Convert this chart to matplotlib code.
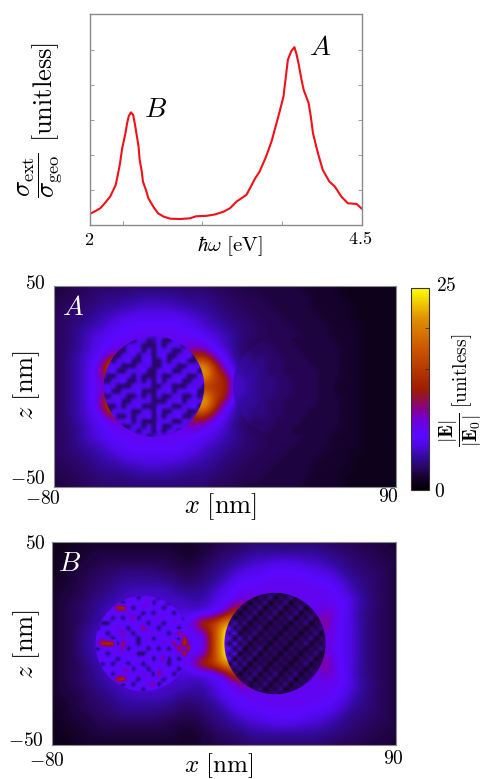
import matplotlib
matplotlib.use("Agg")
import matplotlib.pyplot as plt
import numpy as np
from matplotlib.colors import LinearSegmentedColormap
from matplotlib.patches import Circle

plt.rcParams['mathtext.fontset'] = 'cm'
plt.rcParams['font.family'] = ['cmr10', 'DejaVu Serif']
plt.rcParams['axes.unicode_minus'] = False

W, H = 486, 779

# spectrum
energy = [2.00, 2.05, 2.10, 2.14, 2.19, 2.24, 2.26, 2.28, 2.30, 2.33, 2.345, 2.36, 2.38, 2.40, 2.415, 2.43, 2.45, 2.46,
          2.48, 2.49, 2.52, 2.54, 2.59, 2.63, 2.68, 2.74, 2.83, 2.92, 2.98, 3.07, 3.15, 3.23, 3.29, 3.35, 3.44, 3.52,
          3.56, 3.62, 3.67, 3.72, 3.75, 3.78, 3.80, 3.82, 3.85, 3.88, 3.90, 3.92, 3.945, 3.965, 4.01, 4.03, 4.05, 4.08,
          4.10, 4.14, 4.20, 4.25, 4.31, 4.37, 4.45, 4.50]
sigma = [.31, .39, .48, .62, .81, 1.14, 1.43, 1.76, 2.19, 2.62, 2.90, 3.10, 3.21, 3.14, 2.90, 2.62, 2.24, 1.86,
         1.52, 1.24, .98, .76, .50, .33, .24, .18, .17, .19, .25, .26, .30, .38, .48, .67, .86, 1.33,
         1.52, 1.95, 2.38, 2.95, 3.30, 3.67, 4.19, 4.71, 4.95, 5.07, 4.86, 4.57, 4.14, 3.85, 3.48, 3.10, 2.62, 2.24,
         2.00, 1.57, 1.24, 1.10, .81, .62, .60, .46]
energy_ticks = [2.31, 3.03, 3.77]
sigma_ticks = [1, 2, 3, 4, 5]

# field outside the spheres, 5 nm cells, rows z = 50 ... -50, columns x = -80 ... 90
field_a = [
    [2,2,2.5,2.5,3, 3,3,3,3,3, 3,3,3,3,3, 3,2.5,2.5,2.5,2, 2,2,2,2,2, 1.5,1.5,1.5,1.5,1, 1,1,1,1,1],
    [2,2.5,2.5,3,3, 3.5,3.5,3.5,4,4, 4,4,4,3.5,3.5, 3.5,3,3,2.5,2.5, 2.5,2,2,2,2, 2,1.5,1.5,1.5,1, 1,1,1,1,1],
    [2.5,2.5,3,3,3.5, 4,4,4.5,4.5,5, 5,5,4.5,4.5,4, 4,3.5,3,3,2.5, 2.5,2.5,2,2,2, 2,1.5,1.5,1.5,1.5, 1,1,1,1,1],
    [2.5,3,3,3.5,4, 4.5,5,5.5,6,6, 6,6,6,5.5,5, 4.5,4,3.5,3,3, 2.5,2.5,2.5,2,2, 2,2,1.5,1.5,1.5, 1,1,1,1,1],
    [2.5,3,3.5,4,4.5, 5,6,6.5,7,7, 7,7,7,6.5,6, 5,4.5,4,3.5,3, 3,2.5,2.5,2.5,2, 2,2,2,1.5,1.5, 1.5,1,1,1,1],
    [2.5,3,3.5,4.5,5.5, 6,7,7,7.5,7.5, 7.5,7.5,7.5,7,7, 6,5.5,4.5,4,3, 3,2.5,2.5,2.5,2.5, 2,2,2,1.5,1.5, 1.5,1,1,1,1],
    [2.5,3,3.5,4.5,5.5, 6.5,7,8,7.5,7.5, 7.5,7.5,7.5,8,9, 7.5,6,5,3.5,3, 2.5,2.5,2.5,2.5,2.5, 2,2,2,2,1.5, 1.5,1,1,1,1],
    [2.5,3,4,5,6, 7.5,11,10,7.5,7.5, 7.5,7.5,7.5,10,13, 13,8,6,4,3, 2.5,2.5,2.5,2.5,2.5, 2.5,2,2,2,1.5, 1.5,1,1,1,1],
    [2.5,3,4,5,6.5, 12,22,16,7.5,7.5, 7.5,7.5,7.5,7.5,22, 22,14,7,4.5,3.5, 3,2.5,2.5,2.5,2.5, 2.5,2,2,2,1.5, 1.5,1,1,1,1],
    [2.5,3,4,5,7, 11,16,7.5,7.5,7.5, 7.5,7.5,7.5,7.5,18, 23,15,13,5,4, 3,3,2.5,2.5,2.5, 2.5,2.5,2,2,1.5, 1.5,1,1,1,1],
    [2.5,3,4,5,7, 8,9,7.5,7.5,7.5, 7.5,7.5,7.5,7.5,13, 14,14,13.5,6,4.5, 3,3,3,2.5,2.5, 2.5,2.5,2.5,1.5,1.5, 1.5,1,1,1,1],
    [2.5,3,4,5,7, 11,16,7.5,7.5,7.5, 7.5,7.5,7.5,7.5,18, 23,15,13,5,4, 3,3,2.5,2.5,2.5, 2.5,2.5,2,2,1.5, 1.5,1,1,1,1],
    [2.5,3,4,5,6.5, 12,22,16,7.5,7.5, 7.5,7.5,7.5,7.5,22, 22,14,7,4.5,3.5, 3,2.5,2.5,2.5,2.5, 2.5,2,2,2,1.5, 1.5,1,1,1,1],
    [2.5,3,4,5,6, 7.5,11,10,7.5,7.5, 7.5,7.5,7.5,10,13, 13,8,6,4,3, 2.5,2.5,2.5,2.5,2.5, 2.5,2,2,2,1.5, 1.5,1,1,1,1],
    [2.5,3,3.5,4.5,5.5, 6.5,7,8,7.5,7.5, 7.5,7.5,7.5,8,9, 7.5,6,5,3.5,3, 2.5,2.5,2.5,2.5,2.5, 2,2,2,2,1.5, 1.5,1,1,1,1],
    [2.5,3,3.5,4.5,5.5, 6,7,7,7.5,7.5, 7.5,7.5,7.5,7,7, 6,5.5,4.5,4,3, 3,2.5,2.5,2.5,2.5, 2,2,2,1.5,1.5, 1.5,1,1,1,1],
    [2.5,3,3.5,4,4.5, 5,6,6.5,7,7, 7,7,7,6.5,6, 5,4.5,4,3.5,3, 3,2.5,2.5,2.5,2, 2,2,2,1.5,1.5, 1.5,1,1,1,1],
    [2.5,3,3,3.5,4, 4.5,5,5.5,6,6, 6,6,6,5.5,5, 4.5,4,3.5,3,3, 2.5,2.5,2.5,2,2, 2,2,1.5,1.5,1.5, 1,1,1,1,1],
    [2.5,2.5,3,3,3.5, 4,4,4.5,4.5,5, 5,5,4.5,4.5,4, 4,3.5,3,3,2.5, 2.5,2.5,2,2,2, 2,1.5,1.5,1.5,1.5, 1,1,1,1,1],
    [2,2.5,2.5,3,3, 3.5,3.5,3.5,4,4, 4,4,4,3.5,3.5, 3.5,3,3,2.5,2.5, 2.5,2,2,2,2, 2,1.5,1.5,1.5,1, 1,1,1,1,1],
    [2,2,2.5,2.5,3, 3,3,3,3,3, 3,3,3,3,3, 3,2.5,2.5,2.5,2, 2,2,2,2,2, 1.5,1.5,1.5,1.5,1, 1,1,1,1,1],
]
field_b = [
    [1,1,1,1.5,1.5, 1.5,1.5,1.5,1.5,1.5, 1.5,1.5,1.5,1.5,1.5, 2,2,2.5,2.5,3, 3,3,3,3,3, 3,3,3,2.5,2.5, 2.5,2,2,2,1.5],
    [1,1,1.5,1.5,2, 2,2,2,2,2, 2,2,2,1.5,1.5, 2,2.5,3,3,3.5, 4,4,4,4,4, 4,4,3.5,3.5,3, 3,2.5,2.5,2,2],
    [1,1.5,1.5,2,2, 2.5,2.5,2.5,2.5,2.5, 2.5,2.5,2,2,2, 2.5,3,3.5,4,4.5, 5,5,5.5,5.5,5.5, 5,5,4.5,4,3.5, 3,3,2.5,2.5,2],
    [1,1.5,2,2,2.5, 3,3,3.5,3.5,3.5, 3.5,3,3,2.5,2.5, 3,3.5,4,5,5.5, 6,6.5,7,7,7, 6.5,6,5.5,5,4, 3.5,3,3,2.5,2],
    [1.5,1.5,2,2.5,3, 3,3.5,4,4,4, 4,4,3.5,3,3, 3.5,4,5,6,7, 7,7.5,7.5,7.5,7.5, 7.5,7,7,6,5, 4,3.5,3,2.5,2],
    [1.5,2,2,2.5,3, 3.5,4,4.5,5,5, 5,5,4.5,4,4, 4,5,6,7,7.5, 7.5,7.5,7.5,7.5,7.5, 7.5,7.5,7.5,7,5.5, 4.5,3.5,3,2.5,2],
    [1.5,2,2.5,3,3.5, 4,4.5,5,5,5, 5,5,5,5,4.5, 4.5,5.5,6.5,8,10, 9,7.5,7.5,7.5,7.5, 7.5,7.5,7.5,7.5,6.5, 5,4,3,2.5,2],
    [1.5,2,2.5,3,3.5, 4.5,5,5,5,5, 5,5,5,5.5,5, 5.5,6.5,8,15,14, 7.5,7.5,7.5,7.5,7.5, 7.5,7.5,9.5,8,6.5, 4.5,3.5,3,2.5,2],
    [1.5,2,2.5,3,4, 4.5,5,5,5,5, 5,5,5,6,10, 15,15,22,22,7.5, 7.5,7.5,7.5,7.5,7.5, 7.5,7.5,11,7.5,6, 5,3.5,3,2.5,2],
    [1.5,2,2.5,3.5,4.5, 5,5,5,5,5, 5,5,5,6,7, 7.5,15,25,25,7.5, 7.5,7.5,7.5,7.5,7.5, 7.5,7.5,9,7.5,6, 5,3.5,3,2.5,2],
    [1.5,2,2.5,3.5,4.5, 5,5,5,5,5, 5,5,5,6,7, 7,15,25,25,7.5, 7.5,7.5,7.5,7.5,7.5, 7.5,7.5,8,7.5,6, 5,3.5,3,2.5,2],
    [1.5,2,2.5,3.5,4.5, 5,5,5,5,5, 5,5,5,6,7, 7.5,15,25,25,7.5, 7.5,7.5,7.5,7.5,7.5, 7.5,7.5,9,7.5,6, 5,3.5,3,2.5,2],
    [1.5,2,2.5,3,4, 4.5,5,5,5,5, 5,5,5,6,10, 15,15,22,22,7.5, 7.5,7.5,7.5,7.5,7.5, 7.5,7.5,11,7.5,6, 5,3.5,3,2.5,2],
    [1.5,2,2.5,3,3.5, 4.5,5,5,5,5, 5,5,5,5.5,5, 5.5,6.5,8,15,14, 7.5,7.5,7.5,7.5,7.5, 7.5,7.5,9.5,8,6.5, 4.5,3.5,3,2.5,2],
    [1.5,2,2.5,3,3.5, 4,4.5,5,5,5, 5,5,5,5,4.5, 4.5,5.5,6.5,8,10, 9,7.5,7.5,7.5,7.5, 7.5,7.5,7.5,7.5,6.5, 5,4,3,2.5,2],
    [1.5,2,2,2.5,3, 3.5,4,4.5,5,5, 5,5,4.5,4,4, 4,5,6,7,7.5, 7.5,7.5,7.5,7.5,7.5, 7.5,7.5,7.5,7,5.5, 4.5,3.5,3,2.5,2],
    [1.5,1.5,2,2.5,3, 3,3.5,4,4,4, 4,4,3.5,3,3, 3.5,4,5,6,7, 7,7.5,7.5,7.5,7.5, 7.5,7,7,6,5, 4,3.5,3,2.5,2],
    [1,1.5,2,2,2.5, 3,3,3.5,3.5,3.5, 3.5,3,3,2.5,2.5, 3,3.5,4,5,5.5, 6,6.5,7,7,7, 6.5,6,5.5,5,4, 3.5,3,3,2.5,2],
    [1,1.5,1.5,2,2, 2.5,2.5,2.5,2.5,2.5, 2.5,2.5,2,2,2, 2.5,3,3.5,4,4.5, 5,5,5.5,5.5,5.5, 5,5,4.5,4,3.5, 3,3,2.5,2.5,2],
    [1,1,1.5,1.5,2, 2,2,2,2,2, 2,2,2,1.5,1.5, 2,2.5,3,3,3.5, 4,4,4,4,4, 4,4,3.5,3.5,3, 3,2.5,2.5,2,2],
    [1,1,1,1.5,1.5, 1.5,1.5,1.5,1.5,1.5, 1.5,1.5,1.5,1.5,1.5, 2,2,2.5,2.5,3, 3,3,3,3,3, 3,3,3,2.5,2.5, 2.5,2,2,2,1.5],
]

# field inside the spheres, 2.5 nm cells
inside_a = [
    [6,6,3,6,6,6,3,6,6,6,5,6,6,3,6,6,6,3,6,6,6],
    [6,3,6,6,6,3,3,6,6,3,4,6,3,3,6,6,3,6,6,6,3],
    [3,3,6,6,3,6,6,6,3,3,3,6,3,6,6,6,3,6,6,3,3],
    [6,6,6,3,3,6,7,6,3,6,3,6,6,6,3,3,6,6,6,3,6],
    [6,7,3,3,6,6,6,3,6,6,3,6,7,3,3,6,6,7,3,6,6],
    [3,6,3,6,6,7,3,3,6,7,3,3,6,3,6,6,7,3,3,6,7],
    [3,6,6,6,3,3,3,6,6,6,3,3,6,6,6,3,3,6,6,6,3],
    [6,6,7,3,3,6,6,6,7,3,3,6,6,7,3,3,6,6,7,3,3],
    [6,3,3,6,6,6,3,6,3,3,3,6,3,3,6,6,6,3,3,6,6],
    [3,3,6,6,7,3,3,6,3,6,3,7,3,6,6,7,3,3,6,6,7],
    [6,6,6,3,3,3,6,6,6,6,3,3,6,6,3,3,3,6,6,6,3],
    [6,7,3,3,6,6,6,7,3,3,3,6,6,7,3,6,6,6,7,3,3],
    [3,3,6,6,6,3,3,6,3,6,3,6,3,3,6,6,3,3,6,3,6],
    [6,6,6,7,3,3,6,6,6,6,3,3,3,6,6,7,3,6,6,6,6],
    [6,3,3,6,3,6,6,7,3,3,3,6,6,6,3,3,6,6,7,3,3],
    [3,3,6,6,6,6,3,3,6,6,3,7,3,3,6,6,6,3,3,6,6],
    [6,6,7,3,3,6,3,6,6,7,3,6,3,6,6,7,3,3,6,6,7],
    [6,3,3,6,6,7,3,6,3,3,3,6,6,6,3,3,6,6,7,3,3],
    [3,6,6,6,3,3,6,6,3,6,3,7,3,3,6,6,6,3,3,6,6],
    [6,6,3,3,6,6,6,3,6,6,3,6,3,6,6,3,3,6,6,6,3],
    [6,3,6,6,6,3,3,6,6,3,5,6,6,6,3,6,6,6,3,6,6],
]
ghost_a = [
    [3,3,3,3,2.5,2.5,2.5,2,2,2,2,2],
    [3.5,3.5,3,3,3,2.5,2.5,2.5,2,2,2,2],
    [4,4,3.5,3.5,3,3,2.5,2.5,2.5,2,2,2],
    [4.5,4,4,3.5,3,3,2.5,2.5,2.5,2.5,2,2],
    [5,4.5,4,3.5,3.5,3,3,2.5,2.5,2.5,2,2],
    [5,4.5,4,3.5,3.5,3,3,2.5,2.5,2.5,2,2],
    [4.5,4,4,3.5,3,3,2.5,2.5,2.5,2.5,2,2],
    [4,4,3.5,3.5,3,3,2.5,2.5,2.5,2,2,2],
    [3.5,3.5,3,3,3,2.5,2.5,2.5,2,2,2,2],
    [3,3,3,3,2.5,2.5,2.5,2,2,2,2,2],
]
inside_b_left = [
    [7,7,3,7,7,8,7,3,7,7,3,7,8,7,3,7,7,7,3,7,7],
    [7,3,7,7,3,7,7,7,8,3,7,7,7,3,7,7,8,3,7,7,7],
    [3,7,8,7,7,7,3,7,7,7,7,9,3,7,7,3,7,7,7,8,3],
    [7,7,7,3,7,13,14,7,3,7,8,7,7,7,3,7,7,8,7,3,7],
    [7,3,7,7,7,7,7,8,7,7,3,7,3,7,7,7,3,7,7,7,7],
    [8,7,7,8,3,7,3,7,10,3,7,7,7,8,7,7,7,7,3,7,8],
    [7,7,3,3,7,7,7,7,7,7,7,3,7,7,3,7,8,7,7,3,7],
    [7,3,7,7,7,8,7,3,7,7,11,7,7,3,7,7,7,3,7,7,7],
    [3,7,7,3,7,7,10,7,3,7,7,7,8,7,7,3,7,12,7,7,3],
    [7,7,8,7,3,7,7,7,7,3,7,8,3,7,7,7,7,3,13,7,7],
    [7,9,13,14,13,3,12,7,7,3,7,7,7,7,8,7,11,7,14,9,7],
    [7,3,7,7,7,7,10,3,7,7,7,3,7,3,7,3,7,12,7,13,7],
    [7,7,7,3,7,8,7,7,8,3,3,7,7,7,7,7,7,7,13,7,7],
    [3,7,8,7,7,3,7,7,7,7,7,8,3,7,10,3,7,3,7,7,3],
    [7,7,3,7,3,7,7,3,7,7,3,7,7,7,7,3,7,7,8,7,7],
    [7,3,7,7,7,7,8,10,3,7,7,3,7,8,7,7,7,3,7,3,7],
    [7,7,7,8,3,7,7,7,7,7,8,7,3,11,7,7,3,7,7,7,7],
    [8,7,3,7,7,13,14,7,7,3,7,7,7,7,3,7,7,8,7,3,8],
    [7,3,7,7,7,7,3,7,3,7,7,8,10,3,7,7,3,7,7,7,7],
    [7,7,8,3,7,3,7,7,7,7,3,7,7,7,8,7,7,3,7,7,3],
    [7,7,7,7,7,7,7,8,3,7,7,7,3,7,7,7,7,7,7,7,7],
]
inside_b_right = [
    [3,2,4,1,3,2,4,1,3,2,4,1,3,2,4,1,3,2,4,1,3],
    [2,4,1,3,2,4,1,3,2,4,1,3,2,4,1,3,2,4,1,3,2],
    [4,1,3,2,4,1,3,2,4,1,3,2,4,1,3,2,4,1,3,2,4],
    [1,3,2,4,1,3,2,4,1,3,2,4,1,3,2,4,1,3,2,4,1],
    [3,2,4,1,3,2,4,1,3,2,4,1,3,2,4,1,3,2,4,1,3],
    [6,5,1,3,2,4,1,3,2,4,1,3,2,4,1,3,2,4,1,3,2],
    [6,2,5,2,4,1,3,2,3,1,3,2,3,1,3,2,4,1,3,2,4],
    [6,6,2,4,1,3,2,4,1,3,2,3,1,3,2,3,1,3,2,4,1],
    [6,3,6,1,3,2,4,1,3,2,3,1,3,2,3,1,3,2,4,1,3],
    [6,6,1,5,2,4,1,3,2,3,1,3,2,3,1,3,2,4,1,3,2],
    [6,2,6,2,4,1,3,2,3,1,3,2,3,1,3,2,4,1,3,2,4],
    [6,6,2,5,1,3,2,4,1,3,2,3,1,3,2,3,1,3,2,4,1],
    [6,3,6,1,3,2,4,1,3,2,3,1,3,2,3,1,3,2,4,1,3],
    [6,6,1,4,2,4,1,3,2,3,1,3,2,3,1,3,2,4,1,3,2],
    [6,1,5,2,4,1,3,2,3,1,3,2,3,1,3,2,4,1,3,2,4],
    [6,5,2,4,1,3,2,4,1,3,2,3,1,3,2,3,1,3,2,4,1],
    [3,2,4,1,3,2,4,1,3,2,4,1,3,2,4,1,3,2,4,1,3],
    [2,4,1,3,2,4,1,3,2,4,1,3,2,4,1,3,2,4,1,3,2],
    [4,1,3,2,4,1,3,2,4,1,3,2,4,1,3,2,4,1,3,2,4],
    [1,3,2,4,1,3,2,4,1,3,2,4,1,3,2,4,1,3,2,4,1],
    [3,2,4,1,3,2,4,1,3,2,4,1,3,2,4,1,3,2,4,1,3],
]
field_max = 25

cmap = LinearSegmentedColormap.from_list("field", [
    (0.00, "#000000"), (0.06, "#16022c"), (0.11, "#2a0660"), (0.16, "#320a9a"), (0.22, "#5008e4"), (0.27, "#5a08ff"),
    (0.34, "#6c00dc"), (0.40, "#880090"), (0.45, "#901040"), (0.50, "#a01c00"), (0.70, "#cc5500"),
    (0.85, "#e09000"), (1.00, "#ffff00")])
GRAY = "#8a8a8a"


def px_axes(x0, y0, x1, y1):
    # pixel box, y measured from the top of the picture
    return fig.add_axes([x0 / W, 1 - y1 / H, (x1 - x0) / W, (y1 - y0) / H])


def px_text(x, y, s, **kw):
    kw.setdefault("ha", "center")
    kw.setdefault("va", "center")
    fig.text(x / W, 1 - y / H, s, **kw)


def sphere(ax, values, cx, r):
    # inside of a sphere, clipped to its outline
    half = 26.25
    im = ax.imshow(values, extent=(cx - half, cx + half, -half, half), origin="upper", aspect="auto", cmap=cmap,
                   vmin=0, vmax=field_max, interpolation="bilinear")
    im.set_clip_path(Circle((cx, 0), r, transform=ax.transData))


def field_panel(box, values, name, name_xy):
    ax = px_axes(*box)
    im = ax.imshow(values, extent=(-82.5, 92.5, -52.5, 52.5), origin="upper", aspect="auto", cmap=cmap,
                   vmin=0, vmax=field_max, interpolation="bicubic")
    ax.set_xticks([])
    ax.set_yticks([])
    for s in ax.spines.values():
        s.set_color(GRAY)
        s.set_linewidth(0.8)
    ax.text(name_xy[0], name_xy[1], name, transform=ax.transAxes, color="white", fontsize=20, ha="center", va="center",
            zorder=5)
    return ax, im


fig = plt.figure(figsize=(W / 100, H / 100), dpi=100)

ax = px_axes(89.5, 14.5, 362, 225)
ax.plot(energy, sigma, color="#f01018", lw=1.5)
ax.set_xlim(2, 4.5)
ax.set_ylim(0, 6)
ax.set_xticks(energy_ticks)
ax.set_yticks(sigma_ticks)
ax.tick_params(direction="in", length=3, width=0.6, color=GRAY, labelleft=False, labelbottom=False, right=True)
for s in ax.spines.values():
    s.set_color(GRAY)
    s.set_linewidth(1.0)
px_text(320, 48, r"$A$", fontsize=20)
px_text(156, 110, r"$B$", fontsize=20)
px_text(89, 240, r"$2$", fontsize=13)
px_text(360, 239, r"$4.5$", fontsize=13)
px_text(230, 246, r"$\hbar\omega\ [\mathrm{eV}]$", fontsize=15)
px_text(46, 92, r"$[\mathrm{unitless}]$", fontsize=19, rotation=90)
px_text(40, 175, r"$\dfrac{\sigma_{\mathrm{ext}}}{\sigma_{\mathrm{geo}}}$", fontsize=19, rotation=90)

ax_a, im = field_panel((54, 286, 396, 487), field_a, r"$A$", (0.055, 0.89))
sphere(ax_a, inside_a, -30.3, 25)
ghost = ax_a.imshow(ghost_a, extent=(9, 59, -25, 25), origin="upper", aspect="auto", cmap=cmap, vmin=0, vmax=field_max,
                    interpolation="bilinear")
ghost.set_clip_path(Circle((34, 0), 25, transform=ax_a.transData))
ax_a.set_xlim(-80, 90)
ax_a.set_ylim(-50, 50)
px_text(35, 284, r"$50$", fontsize=14)
px_text(28, 479, r"$-50$", fontsize=14)
px_text(43, 499, r"$-80$", fontsize=14)
px_text(388, 497, r"$90$", fontsize=14)
px_text(220, 507, r"$x\ [\mathrm{nm}]$", fontsize=19)
px_text(27, 385, r"$z\ [\mathrm{nm}]$", fontsize=19, rotation=90)

cax = px_axes(410.5, 288, 429, 490)
cb = fig.colorbar(im, cax=cax)
cb.set_ticks([5, 10, 15, 20])
cb.ax.tick_params(direction="in", length=3, width=0.6, color="#333333", labelright=False)
cb.outline.set_edgecolor("#333333")
cb.outline.set_linewidth(0.8)
px_text(446, 286, r"$25$", fontsize=14)
px_text(439, 492, r"$0$", fontsize=14)
px_text(462, 371, r"$[\mathrm{unitless}]$", fontsize=14, rotation=90)
px_text(461, 430, r"$\dfrac{|\mathbf{E}|}{|\mathbf{E}_0|}$", fontsize=14, rotation=90)

ax_b, _ = field_panel((52, 542, 396, 745), field_b, r"$B$", (0.05, 0.89))
sphere(ax_b, inside_b_left, -35, 23.5)
sphere(ax_b, inside_b_right, 30.2, 25)
ax_b.set_xlim(-80, 90)
ax_b.set_ylim(-50, 50)
px_text(35, 544, r"$50$", fontsize=14)
px_text(26, 741, r"$-50$", fontsize=14)
px_text(47, 761, r"$-80$", fontsize=14)
px_text(393, 759, r"$90$", fontsize=14)
px_text(219, 766, r"$x\ [\mathrm{nm}]$", fontsize=18)
px_text(27, 644, r"$z\ [\mathrm{nm}]$", fontsize=19, rotation=90)

fig.savefig("out.png", dpi=100)
